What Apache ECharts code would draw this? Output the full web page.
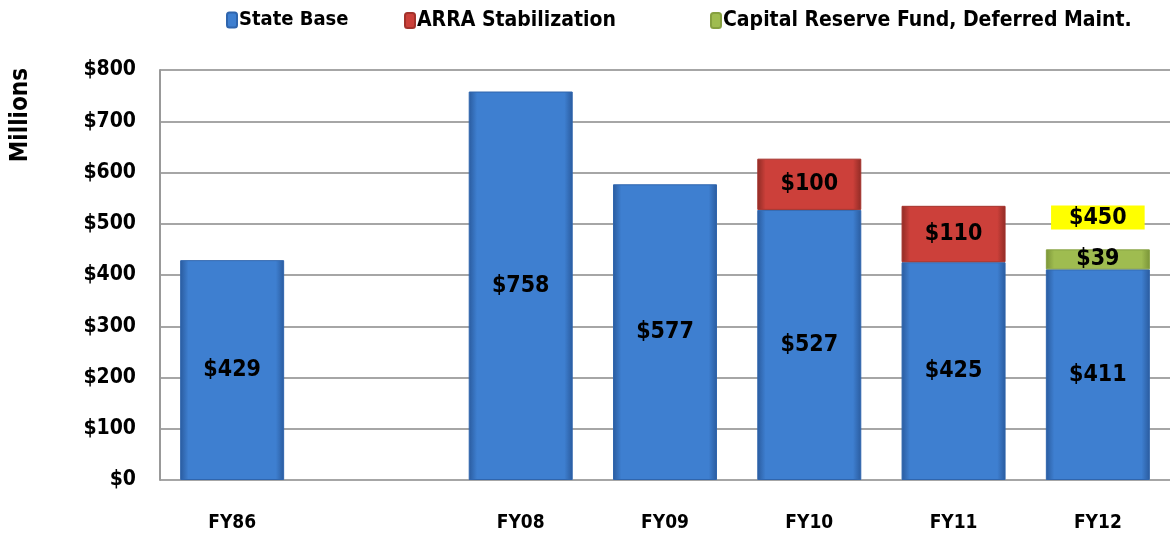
<!DOCTYPE html>
<html>
<head>
<meta charset="utf-8">
<script src="https://cdn.jsdelivr.net/npm/echarts@6/dist/echarts.min.js"></script>
<style>
    html, body { margin: 0; padding: 0; background: #fff; }
    #chart { width: 1172px; height: 538px; }
</style>
</head>
<body>
<div id="chart"></div>
<script>
// 数据
const categories = ['FY86', '', 'FY08', 'FY09', 'FY10', 'FY11', 'FY12'];
const stateBase = [429, null, 758, 577, 527, 425, 411];
const arraStab = [null, null, null, null, 100, 110, null];
const capitalReserve = [null, null, null, null, null, null, 39];
const totals = [null, null, null, null, null, null, 450];
const yTicks = [0, 100, 200, 300, 400, 500, 600, 700, 800];
const seriesNames = ['State Base', 'ARRA Stabilization', 'Capital Reserve Fund, Deferred Maint.'];

const FONT = "'DejaVu Sans Condensed', 'Liberation Sans', sans-serif";

function bevel(edge, mid) {
    return new echarts.graphic.LinearGradient(0, 0, 1, 0, [
        {offset: 0, color: edge},
        {offset: 0.08, color: mid},
        {offset: 0.92, color: mid},
        {offset: 1, color: edge}
    ]);
}

const insideLabel = {
    show: true,
    position: 'inside',
    formatter: p => '$' + p.value,
    color: '#000',
    fontFamily: FONT,
    fontWeight: 'bold',
    fontSize: 23
};

// 图例 - 每项单独定位
const legendLeft = [221, 399, 705];
const legends = seriesNames.map((name, i) => ({
    top: 5,
    left: legendLeft[i],
    itemWidth: 10,
    itemHeight: 15,
    data: [name],
    textStyle: { fontFamily: FONT, fontWeight: 'bold', fontSize: i === 0 ? 20 : 21, color: '#000', padding: [0, 0, 0, -3] }
}));

const option = {
    backgroundColor: '#fff',
    animation: false,
    textStyle: { fontFamily: FONT },
    legend: legends,
    graphic: [{
        type: 'text',
        left: 9,
        top: 68,
        rotation: Math.PI / 2,
        style: { text: 'Millions', fontFamily: FONT, fontWeight: 'bold', fontSize: 24, fill: '#000' }
    }],
    grid: { left: 160, right: 2, top: 70, bottom: 58 },
    xAxis: {
        type: 'category',
        data: categories,
        axisLine: { show: false },
        axisTick: { show: false },
        axisLabel: { fontFamily: FONT, fontWeight: 'bold', fontSize: 19, color: '#000', margin: 34 }
    },
    yAxis: {
        type: 'value',
        min: 0,
        max: 800,
        interval: 100,
        axisLine: { show: true, lineStyle: { color: '#999', width: 2 } },
        axisTick: { show: false },
        splitLine: { lineStyle: { color: '#a6a6a6', width: 2 } },
        axisLabel: {
            fontFamily: FONT, fontWeight: 'bold', fontSize: 21, color: '#000', margin: 24,
            formatter: v => yTicks.includes(v) ? '$' + v : ''
        }
    },
    series: [
        {
            name: seriesNames[0],
            type: 'bar',
            stack: 'total',
            barWidth: 104,
            data: stateBase,
            itemStyle: { color: bevel('#2a5b9e', '#3e7fd0'), borderColor: '#2f65ad', borderWidth: 1 },
            label: insideLabel
        },
        {
            name: seriesNames[1],
            type: 'bar',
            stack: 'total',
            data: arraStab,
            itemStyle: { color: bevel('#8f2b25', '#cc403a'), borderColor: '#a3322c', borderWidth: 1 },
            label: insideLabel
        },
        {
            name: seriesNames[2],
            type: 'bar',
            stack: 'total',
            data: capitalReserve,
            itemStyle: { color: bevel('#7a9438', '#9fbc50'), borderColor: '#86a040', borderWidth: 1 },
            label: insideLabel
        },
        {
            // 合计标签：零高度堆叠在顶部
            name: 'Total',
            type: 'bar',
            stack: 'total',
            data: totals.map(v => v == null ? null : 0),
            itemStyle: { color: 'rgba(0,0,0,0)' },
            label: {
                show: true,
                position: 'top',
                distance: 20,
                formatter: p => '$' + totals[p.dataIndex],
                color: '#000',
                fontFamily: FONT,
                fontWeight: 'bold',
                fontSize: 23,
                backgroundColor: '#ffff00',
                padding: [1, 18, 0, 18]
            }
        }
    ]
};

const chart = echarts.init(document.getElementById('chart'));
chart.setOption(option);
</script>
</body>
</html>
